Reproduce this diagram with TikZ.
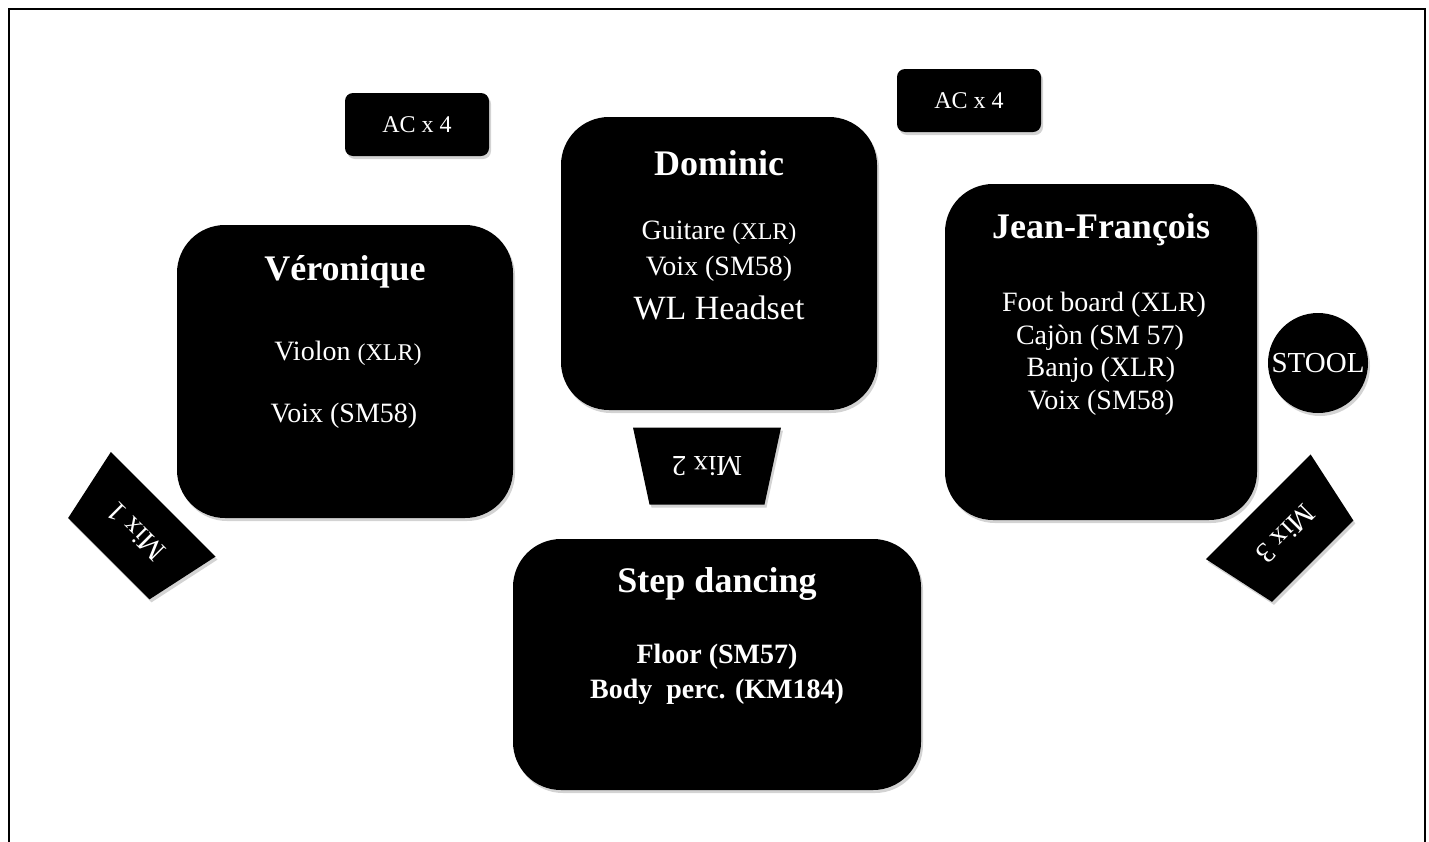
\documentclass[tikz,border=0pt]{standalone}
\usepackage{fontspec}
\setmainfont{Liberation Serif}
\usetikzlibrary{shadows}

\tikzset{
  soft/.style={drop shadow={opacity=0.35, shadow xshift=1pt, shadow yshift=-1.5pt}},
  desk/.style={fill=black, rounded corners=24pt, inner sep=0pt, soft},
  acbox/.style={fill=black, rounded corners=4pt, text=white, inner sep=0pt,
    minimum width=72pt, minimum height=31.5pt, font=\fontsize{12}{14}\selectfont, soft},
  who/.style={text=white, font=\fontsize{18}{21}\selectfont\bfseries},
  gear/.style={text=white, font=\fontsize{14}{17}\selectfont},
  mixpad/.style={fill=black, soft},
  mixtext/.style={transform shape, text=white, inner sep=0pt, font=\fontsize{14.5}{16}\selectfont},
}
\newcommand{\sm}[1]{{\fontsize{12}{14}\selectfont #1}}

\begin{document}
\begin{tikzpicture}[x=0.5pt, y=-0.5pt]
    \useasboundingbox (0,0) rectangle (1429,841);
    % frame
    \draw[line width=1.2pt] (9,860) -- (9,9) -- (1425,9) -- (1425,860);

    % desks
    \node[desk, minimum width=168pt, minimum height=146.5pt] (vero) at (345,371.5) {};
    \node[desk, minimum width=158pt, minimum height=146.5pt] (dom)  at (719,263.5) {};
    \node[desk, minimum width=156pt, minimum height=168pt]   (jf)   at (1101,352) {};
    \node[desk, minimum width=204pt, minimum height=125.5pt] (step) at (717,664.5) {};

    % power
    \node[acbox] (acL) at (417,124.5) {AC x 4};
    \node[acbox] (acR) at (969,100.5) {AC x 4};

    % stool
    \node[circle, fill=black, minimum size=50pt, inner sep=0pt, text=white,
          font=\fontsize{14.5}{16}\selectfont, soft] (stool) at (1318,363) {STOOL};

    % monitors
    \begin{scope}[shift={(136,531.5)}, rotate=135]
      \fill[mixpad] (-74,38.5) -- (74,38.5) -- (57.5,-38.5) -- (-57.5,-38.5) -- cycle;
      \node[mixtext] (mix1) at (0,0) {Mix 1};
    \end{scope}
    \begin{scope}[shift={(707,466)}, rotate=180]
      \fill[mixpad] (-74,38.5) -- (74,38.5) -- (57.5,-38.5) -- (-57.5,-38.5) -- cycle;
      \node[mixtext] (mix2) at (0,0) {Mix 2};
    \end{scope}
    \begin{scope}[shift={(1285.5,534)}, rotate=225]
      \fill[mixpad] (-74,38.5) -- (74,38.5) -- (57.5,-38.5) -- (-57.5,-38.5) -- cycle;
      \node[mixtext] (mix3) at (0,0) {Mix 3};
    \end{scope}

    % Veronique
    \node[who]  (veroT) at (345,272) {Véronique};
    \node[gear] (vero1) at (348,353) {Violon \sm{(XLR)}};
    \node[gear] (vero2) at (344,416) {Voix (SM58)};

    % Dominic
    \node[who]  (domT) at (719,163) {Dominic};
    \node[gear] (dom1) at (719,233) {Guitare \sm{(XLR)}};
    \node[gear] (dom2) at (719,269) {Voix (SM58)};
    \node[gear, font=\fontsize{17}{20}\selectfont] (dom3) at (719,308) {WL Headset};

    % Jean-Francois
    \node[who]  (jfT) at (1101,230) {Jean-François};
    \node[gear] (jf1) at (1104,305) {Foot board (XLR)};
    \node[gear] (jf2) at (1100,338) {Cajòn (SM 57)};
    \node[gear] (jf3) at (1101,370) {Banjo (XLR)};
    \node[gear] (jf4) at (1101,403) {Voix (SM58)};

    % Step dancing
    \node[who]  (stepT) at (717,584) {Step dancing};
    \node[gear, font=\fontsize{14}{17}\selectfont\bfseries] (step1) at (717,657) {Floor (SM57)};
    \node[gear, font=\fontsize{14}{17}\selectfont\bfseries] (step2) at (717,692) {Body\ \ perc. (KM184)};
\end{tikzpicture}
\end{document}
